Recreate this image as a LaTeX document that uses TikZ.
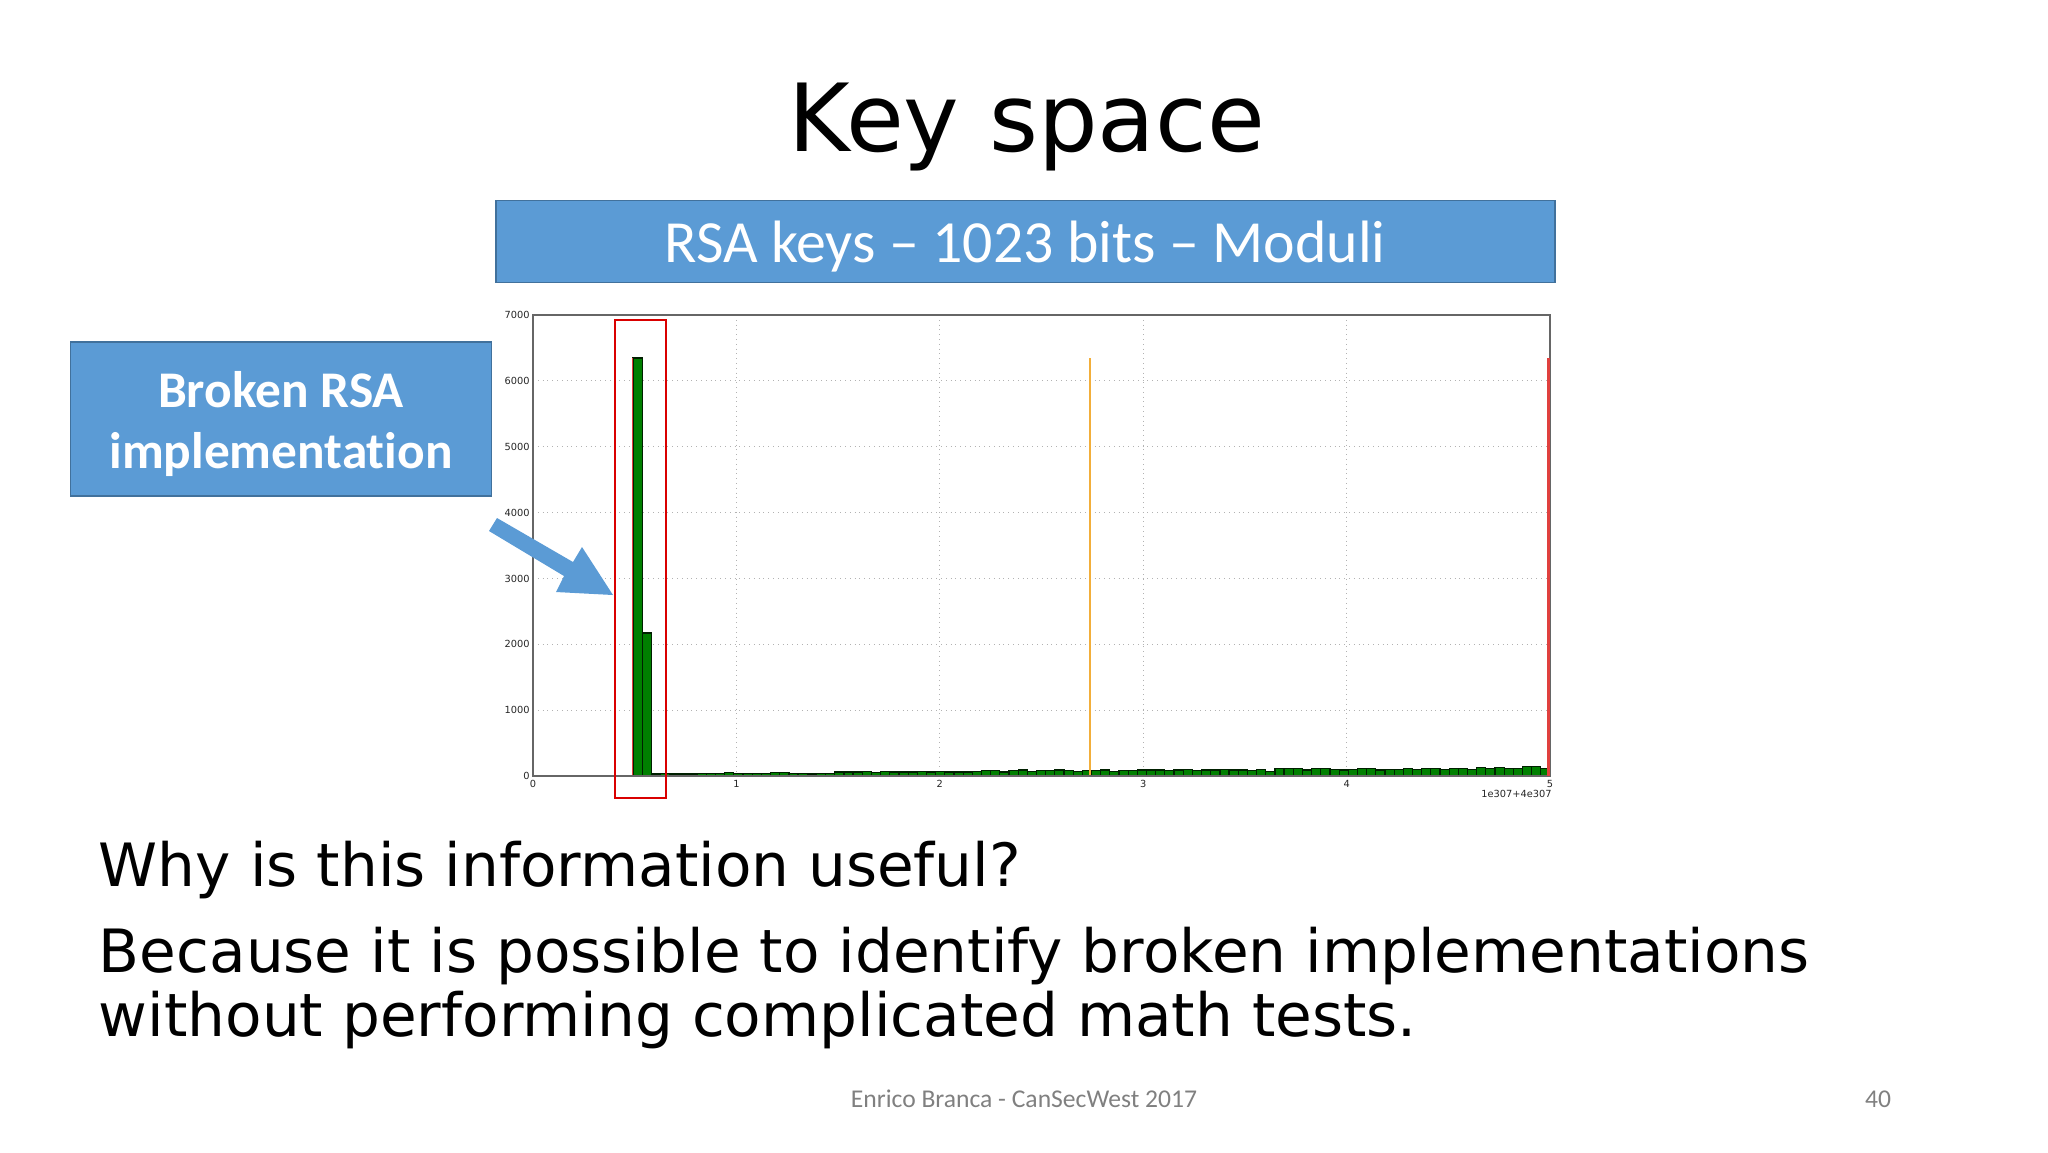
\documentclass[tikz,border=0pt]{standalone}
\usepackage{fontspec}
\setmainfont{DejaVu Sans}
\newfontfamily\calibrifont[Ligatures=NoCommon]{Carlito}
\usepackage{tikz}
\definecolor{boxblue}{HTML}{5B9BD5}
\definecolor{boxedge}{HTML}{41719C}
\definecolor{barsgreen}{HTML}{007F00}
\definecolor{markorange}{HTML}{F2AE3A}
\definecolor{markred}{HTML}{E0403E}
\tikzset{
    bluebox/.style = {draw = boxedge, line width = 0.8pt, fill = boxblue, inner sep = 0pt},
    boxtext/.style = {text = white, align = center, inner sep = 0pt},
    bodytext/.style = {anchor = base west, inner sep = 0pt, font = \fontsize{29.85}{29.85}\selectfont},
    ticklabel/.style = {inner sep = 0pt, text = black!85, font = \fontsize{4.9}{4.9}\selectfont},
    footertext/.style = {anchor = base, inner sep = 0pt, text = black!50, font = \calibrifont\fontsize{12.8}{12.8}\selectfont},
    gridline/.style = {draw = black!30, line width = 0.4pt, dotted},
    histbar/.style = {draw = black!75!barsgreen, line width = 0.6pt, fill = barsgreen},
}

\begin{document}
\begin{tikzpicture}[x = 0.5pt, y = -0.5pt]
        \useasboundingbox (0, 0) rectangle (2048, 1152);

        % title and boxes
        \node [anchor = base, inner sep = 0pt, font = \fontsize{47}{47}\selectfont] (title) at (1027, 151) {Key space};
        \node [bluebox, minimum width = 529.5pt, minimum height = 41pt] (header) at (1025.5, 241.5) {};
        \node [boxtext, font = \calibrifont\fontsize{29.9}{29.9}\selectfont] (headertext) at (1025, 246.5) {RSA keys – 1023 bits – Moduli};
        \node [bluebox, minimum width = 210.5pt, minimum height = 77pt] (broken) at (281, 419) {};
        \node [boxtext, font = \calibrifont\bfseries\fontsize{25.7}{30.5}\selectfont] (brokentext) at (281, 423.5) {Broken RSA\\implementation};

        % grid
        \foreach \y in {1000, 2000, ..., 6000}
            \draw [gridline] (533, {776 - \y*0.06586}) -- (1550, {776 - \y*0.06586});
        \foreach \x in {1, 2, 3, 4}
            \draw [gridline] ({533 + \x*203.4}, 315) -- ({533 + \x*203.4}, 776);

        % histogram
        \draw [histbar] (633, 776) rectangle (642.3, 358);
        \draw [histbar] (642.3, 776) rectangle (651.4, 633);
        \foreach \h [count = \n from 2] in {
            30, 40, 30, 30, 30, 40, 40, 40, 50, 40, 40, 40, 40, 50, 50, 40, 40, 30,
            40, 40, 60, 60, 60, 70, 50, 70, 60, 60, 60, 70, 60, 70, 60, 60, 60, 70, 80, 80,
            60, 80, 90, 70, 80, 80, 90, 80, 70, 80, 80, 90, 70, 80, 80, 90, 90, 90,
            80, 90, 100, 80, 90, 90, 100, 90, 90, 80, 100, 70, 110, 120, 110, 90, 120, 110,
            100, 90, 100, 110, 110, 90, 100, 100, 110, 100, 120, 120, 100, 120, 110, 100, 130, 110,
            130, 120, 110, 140, 140, 110}
            \draw [histbar] ({633 + \n*9.17}, 776) rectangle ++(9.17, {-\h*0.06586});

        % marker lines
        \draw [markred, line width = 0.6pt] (632.7, 776) -- (632.7, 358);
        \draw [markorange, line width = 1.3pt] (1090, 776) -- (1090, 358);

        % frame
        \draw [black!60, line width = 0.7pt] (533, 315) rectangle (1550, 776);
        \draw [markred, line width = 1.1pt] (1548.5, 776) -- (1548.5, 358);

        % tick labels
        \foreach \y in {0, 1000, ..., 7000}
            \node [ticklabel, anchor = east] (ytick\y) at (530, {776 - \y*0.06586}) {\y};
        \foreach \x in {0, 1, ..., 5}
            \node [ticklabel, anchor = north] (xtick\x) at ({533 + \x*203.4}, 780) {\x};
        \node [ticklabel, anchor = north east] (offset) at (1552, 790) {1e307+4e307};

        % highlight and pointer
        \draw [red!85!black, line width = 0.9pt] (615, 320) rectangle (666, 798);
        \fill [boxblue] (497, 518) -- (573, 562) -- (582, 547) -- (613, 595) -- (556, 592) -- (564, 576) -- (489, 531) -- cycle;

        % text
        \node [bodytext] (question) at (98.5, 886) {Why is this information useful?};
        \node [bodytext] (answera) at (98.5, 972) {Because it is possible to identify broken implementations};
        \node [bodytext] (answerb) at (98.5, 1036) {without performing complicated math tests.};
        \node [footertext] (footer) at (1024, 1107) {Enrico Branca - CanSecWest 2017};
        \node [footertext] (pagenum) at (1878, 1107) {40};
\end{tikzpicture}
\end{document}
